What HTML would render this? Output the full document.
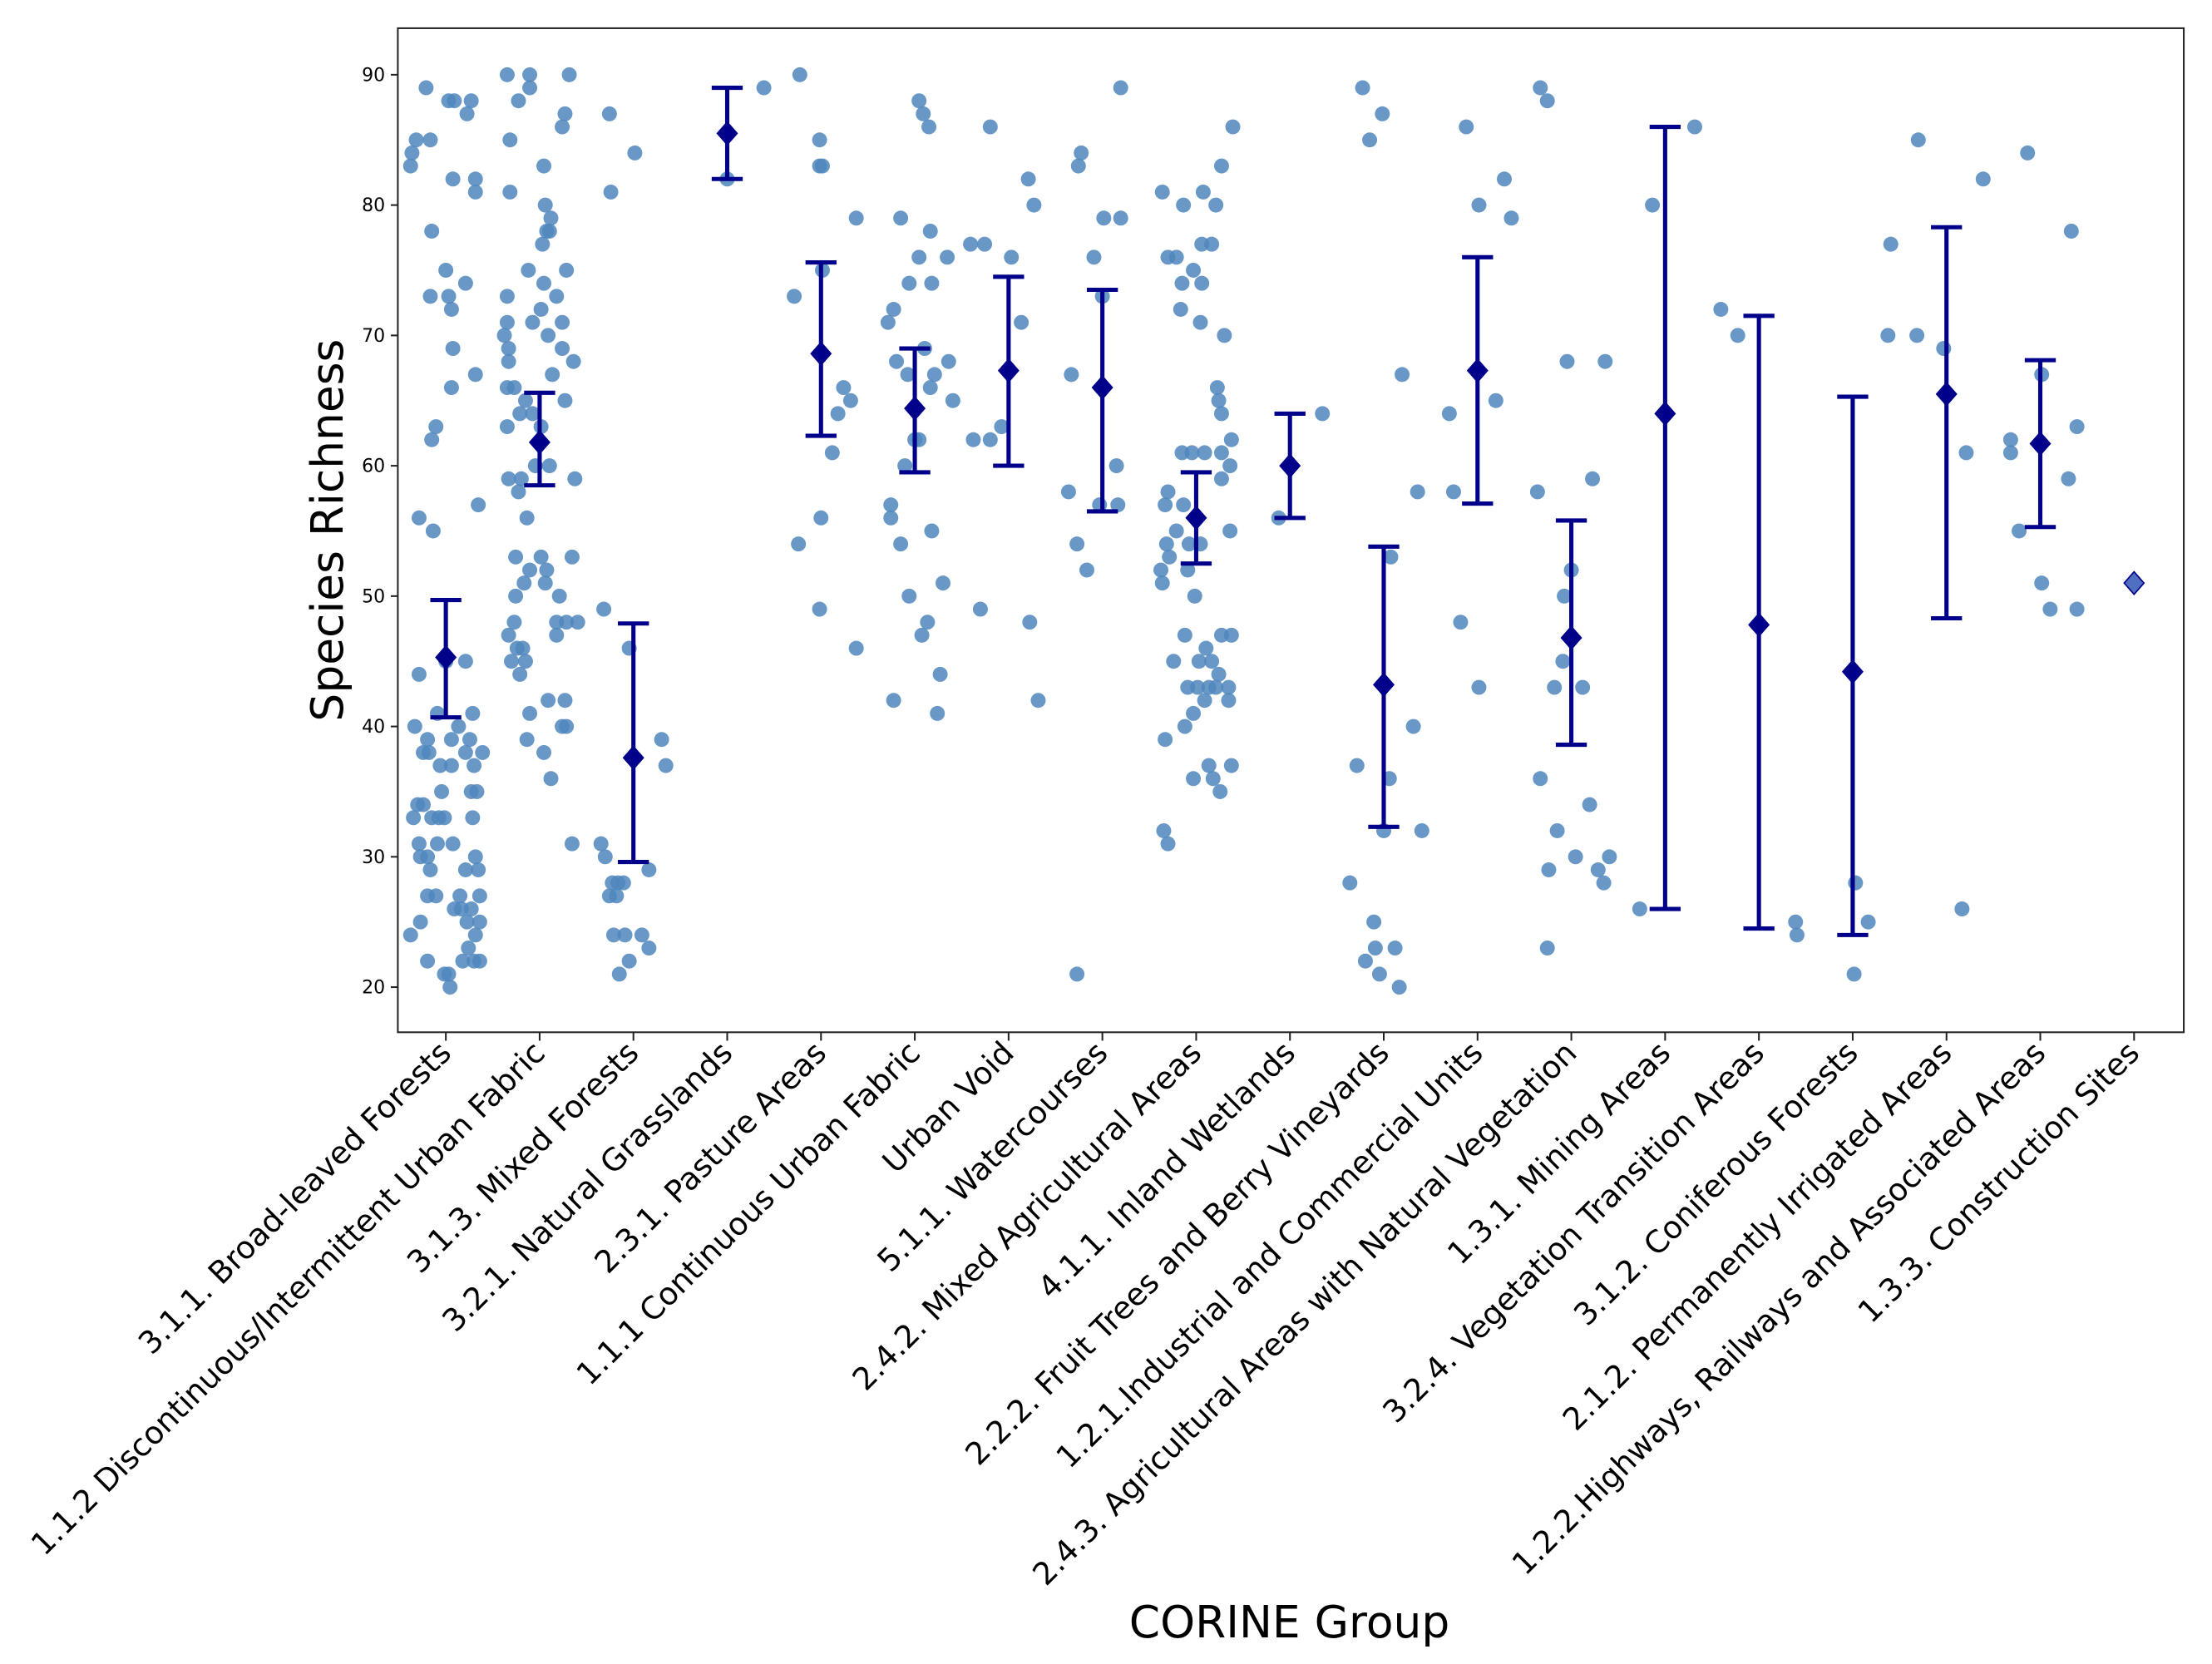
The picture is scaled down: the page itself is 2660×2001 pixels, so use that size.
<!DOCTYPE html>
<html><head><meta charset="utf-8"><style>
html,body{margin:0;padding:0;background:#fff;}
svg{display:block;}
text{font-family:"DejaVu Sans","Liberation Sans",sans-serif;fill:#000;}
</style></head><body>
<svg id="chart" width="2660" height="2001" viewBox="0 0 1568 1180" preserveAspectRatio="none" xmlns="http://www.w3.org/2000/svg"></svg>
<script>
const categories = ["3.1.1. Broad-leaved Forests","1.1.2 Discontinuous/Intermittent Urban Fabric","3.1.3. Mixed Forests","3.2.1. Natural Grasslands","2.3.1. Pasture Areas","1.1.1 Continuous Urban Fabric","Urban Void","5.1.1. Watercourses","2.4.2. Mixed Agricultural Areas","4.1.1. Inland Wetlands","2.2.2. Fruit Trees and Berry Vineyards","1.2.1.Industrial and Commercial Units","2.4.3. Agricultural Areas with Natural Vegetation","1.3.1. Mining Areas","3.2.4. Vegetation Transition Areas","3.1.2. Coniferous Forests","2.1.2. Permanently Irrigated Areas","1.2.2.Highways, Railways and Associated Areas","1.3.3. Construction Sites"];
const means = [45.3,61.8,37.6,85.5,68.6,64.4,67.3,66,56,60,43.2,67.3,46.8,64,47.8,44.2,65.5,61.7,51];
const lows  = [40.7,58.5,29.6,82,62.3,59.5,60,56.5,52.5,56,32.3,57.1,38.6,26,24.5,24,48.3,55.3,51];
const highs = [49.7,65.6,47.9,89,75.6,69,74.5,73.5,59.5,64,53.8,76,55.8,86,71.5,65.3,78.3,68.1,51];
const yTicks = [20,30,40,50,60,70,80,90];
// observations per category: [value, jitter] (jitter in 1/66.5 of a category step)
const observations = [
[[89,-14],[85,-21],[84,-24],[83,-25],[85,-11],[88,2],[88,6],[87,15],[88,18],[82,5],[82,21],[81,21],[78,-10],[75,0],[74,14],[73,-11],[73,2],[72,4],[67,21],[69,5],[66,4],[63,-7],[62,-10],[56,-19],[55,-9],[57,23],[45,0],[45,14],[44,-19],[40,-22],[41,-6],[40,9],[41,19],[39,-13],[39,4],[39,17],[38,-16],[38,-12],[38,14],[38,26],[37,-4],[37,4],[37,20],[35,-3],[35,18],[35,22],[34,-20],[34,-16],[33,-23],[33,-10],[33,-5],[33,-1],[31,-19],[31,5],[33,19],[31,-6],[30,-18],[30,-13],[30,21],[29,-11],[29,14],[29,23],[27,-13],[27,-7],[27,10],[27,24],[26,6],[26,11],[26,18],[25,-18],[25,15],[25,24],[24,21],[24,-25],[23,16],[22,-13],[22,12],[22,20],[22,24],[21,-1],[21,2],[20,3]],
[[90,-23],[90,-7],[90,21],[88,-15],[89,-7],[85,-21],[87,18],[86,16],[83,3],[80,4],[81,-21],[79,8],[78,5],[78,7],[77,2],[75,-8],[75,19],[74,3],[73,12],[73,-23],[71,-5],[72,1],[71,-23],[70,-25],[70,6],[71,16],[69,-22],[68,-22],[68,24],[67,9],[66,-23],[66,-18],[65,-10],[64,-5],[64,-14],[63,1],[63,-23],[65,18],[69,16],[60,-3],[60,7],[59,-13],[59,-22],[59,25],[58,-15],[56,-9],[53,-17],[53,1],[53,23],[52,-7],[52,5],[51,-11],[51,4],[50,14],[50,-17],[48,19],[48,-18],[48,12],[48,27],[47,12],[47,-22],[46,-16],[46,-12],[45,-20],[45,-10],[44,-14],[42,6],[42,18],[41,-7],[40,16],[40,19],[39,-9],[38,3],[36,8],[31,23]],
[[87,-17],[84,1],[81,-16],[49,-21],[46,-3],[39,20],[37,23],[31,-23],[30,-20],[28,-15],[28,-11],[28,-7],[27,-17],[27,-12],[29,11],[24,-14],[24,-6],[24,6],[23,11],[22,-3],[21,-10]],
[[89,26],[82,0]],
[[90,-15],[85,-1],[83,-1],[83,1],[73,-19],[75,1],[79,25],[66,16],[65,21],[64,12],[61,8],[56,0],[54,-16],[49,-1],[46,25]],
[[88,3],[87,6],[86,10],[79,-10],[78,11],[76,3],[76,23],[74,-4],[74,12],[72,-15],[71,-19],[69,7],[68,-13],[67,-5],[67,14],[68,24],[66,11],[65,27],[62,3],[60,-7],[62,0],[57,-17],[56,-17],[55,12],[54,-10],[51,20],[50,-4],[48,9],[47,5],[44,18],[42,-15],[41,16]],
[[86,-13],[77,-27],[77,-17],[82,14],[76,2],[80,18],[71,9],[62,-25],[62,-13],[63,-5],[49,-20],[48,15],[42,21]],
[[89,13],[84,-15],[83,-17],[76,-6],[73,0],[79,1],[79,13],[67,-22],[60,10],[57,-2],[57,11],[58,-24],[54,-18],[52,-11],[21,-18]],
[[81,-24],[80,-9],[81,5],[80,14],[76,-20],[76,-14],[75,-2],[74,4],[74,-10],[83,18],[86,26],[72,-11],[77,4],[77,11],[71,3],[70,20],[66,15],[64,18],[65,16],[61,-10],[61,-3],[61,6],[61,18],[62,25],[60,24],[58,-20],[57,-22],[57,-9],[56,0],[59,18],[54,-21],[55,-14],[54,-5],[54,3],[52,-25],[53,-19],[51,-24],[52,-6],[50,-1],[55,24],[45,-16],[47,-8],[45,2],[45,11],[47,18],[47,25],[46,7],[44,16],[43,1],[43,9],[43,14],[43,23],[43,-6],[39,-22],[41,-2],[40,-8],[42,6],[42,23],[37,9],[37,25],[36,-2],[36,12],[35,17],[32,-23],[31,-20]],
[[64,23],[56,-8]],
[[89,-15],[87,-1],[85,-10],[67,13],[58,24],[53,5],[37,-19],[36,4],[40,21],[32,27],[32,0],[28,-24],[25,-7],[22,-13],[23,-6],[23,8],[21,-3],[20,11]],
[[86,-8],[82,19],[80,1],[79,24],[65,13],[64,-20],[58,-17],[48,-12],[43,1]],
[[89,-22],[88,-17],[68,-3],[68,24],[59,15],[58,-24],[52,0],[50,-5],[45,-6],[43,-12],[43,8],[36,-22],[34,13],[32,-10],[30,3],[29,19],[30,27],[29,-16],[28,23],[23,-17]],
[[80,-9],[86,21],[26,-18]],
[[72,-27],[70,-15],[25,26],[24,27]],
[[77,27],[70,25],[28,2],[25,11],[21,1]],
[[85,-20],[82,26],[70,-21],[69,-2],[61,14],[26,11]],
[[84,-9],[78,22],[62,-21],[61,-21],[67,1],[63,26],[59,20],[55,-15],[51,1],[49,7],[49,26]],
[[51,0]]
];

const NS = "http://www.w3.org/2000/svg";
const svg = document.getElementById('chart');
const P = {l:282, r:1548, t:20, b:732};
const xDom = [-0.512, 18.53], yDom = [16.54, 93.57];
function xs(i){ return P.l + (i - xDom[0]) / (xDom[1]-xDom[0]) * (P.r - P.l); }
function ys(v){ return P.b - (v - yDom[0]) / (yDom[1]-yDom[0]) * (P.b - P.t); }
const step = xs(1) - xs(0);
function mk(tag, attrs, parent){
  const e = document.createElementNS(NS, tag);
  for (const k in attrs) e.setAttribute(k, attrs[k]);
  (parent || svg).appendChild(e);
  return e;
}

const gPts = mk('g', {});


observations.forEach((arr, ci) => {
  arr.forEach(o => {
    const c = mk('circle', {cx: xs(ci) + o[1] * step / 66.5, cy: ys(o[0]), r: 5.3, fill: '#4f86bd', 'fill-opacity': 0.85}, gPts);
    
    
  });
});

const gErr = mk('g', {});


categories.forEach((c, i) => {
  const x = xs(i);
  if (highs[i] > lows[i]) {
    const st = {stroke: '#00008b', 'stroke-width': 3};
    const l1 = mk('line', Object.assign({x1:x, x2:x, y1:ys(lows[i]), y2:ys(highs[i])}, st), gErr);
    
    
    const l2 = mk('line', Object.assign({x1:x-11, x2:x+11, y1:ys(lows[i]), y2:ys(lows[i])}, st), gErr);
    
    
    const l3 = mk('line', Object.assign({x1:x-11, x2:x+11, y1:ys(highs[i]), y2:ys(highs[i])}, st), gErr);
    
    
  }
  const y = ys(means[i]);
  const d = mk('polygon', {points: `${x},${y-8} ${x+7},${y} ${x},${y+8} ${x-7},${y}`, fill: highs[i] > lows[i] ? '#00008b' : '#4f6fc0', stroke:'#00008b', 'stroke-width':1}, gErr);
  
  
});

const frame = mk('rect', {x:P.l, y:P.t, width:P.r-P.l, height:P.b-P.t, fill:'none', stroke:'#222', 'stroke-width':1.2});



yTicks.forEach(v => {
  const y = ys(v);
  const t = mk('line', {x1:P.l-5, x2:P.l, y1:y, y2:y, stroke:'#222', 'stroke-width':1.2});
  
  
  const tx = mk('text', {x:P.l-9, y:y+4.5, 'text-anchor':'end', 'font-size':13});
  tx.textContent = v;
  
  
});

categories.forEach((c, i) => {
  const x = xs(i);
  const t = mk('line', {x1:x, x2:x, y1:P.b, y2:P.b+6, stroke:'#222', 'stroke-width':1.2});
  
  
  const tx = mk('text', {x:x+5, y:P.b+16, 'text-anchor':'end', 'font-size':22, transform:`rotate(-45 ${x+5} ${P.b+16})`});
  tx.textContent = c;
  
  
});

const yt = mk('text', {x:0, y:0, 'text-anchor':'middle', 'font-size':31.5, transform:`translate(243 376) rotate(-90)`});
yt.textContent = 'Species Richness';


const xt = mk('text', {x:914, y:1161, 'text-anchor':'middle', 'font-size':31.5});
xt.textContent = 'CORINE Group';


</script>
</body></html>
